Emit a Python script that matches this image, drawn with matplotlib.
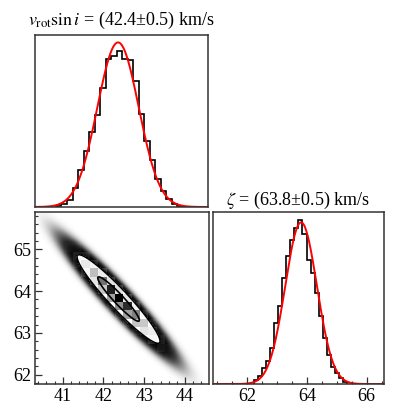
import matplotlib
matplotlib.use("Agg")
import matplotlib.pyplot as plt
import numpy as np
from matplotlib.colors import LinearSegmentedColormap
from matplotlib.ticker import MultipleLocator

plt.rcParams['font.family'] = ['Liberation Serif', 'DejaVu Serif']
plt.rcParams['mathtext.fontset'] = 'stix'

# marginal histograms (heights in axis pixels, axis = 172)
bin_w = 0.136
v_first_edge = 40.838
v_counts = [1, 3.3, 7, 18.7, 37, 56, 75, 91.7, 118.7, 147.7, 151, 156.5,
            148.5, 147, 126, 92.7, 66, 47, 27.7, 16, 8.3, 3.3, 1]
z_first_edge = 62.224
z_counts = [4, 8, 16, 23, 36, 61, 78, 106, 128, 144, 156, 164,
            150, 124, 111, 91, 68, 46, 29, 17, 11, 6, 2]

# gaussian fit parameters
v_mu, v_sd = 42.37, 0.51
z_mu, z_sd = 63.81, 0.53
rho = -0.95

v_title = r"$v_{\rm rot}\sin i$ = (42.4±0.5) km/s"
z_title = r"$\zeta$ = (63.8±0.5) km/s"

v_lim = (40.32, 44.59)
z_lim_2d = (61.78, 65.89)
z_lim_hist = (60.867, 66.58)
hist_top = 172

W, H = 399, 418
fig = plt.figure(figsize=(W / 100, H / 100), dpi=100)


def rect(x0, x1, y0, y1):
    return [x0 / W, 1 - y1 / H, (x1 - x0) / W, (y1 - y0) / H]


ax_v = fig.add_axes(rect(35, 208, 35, 207))
ax_2d = fig.add_axes(rect(35, 209, 212, 384))
ax_z = fig.add_axes(rect(213, 384, 212, 384))

fs = 13
for ax in (ax_v, ax_2d, ax_z):
    for s in ax.spines.values():
        s.set_color('0.2')
        s.set_linewidth(1.1)
    ax.tick_params(which='both', direction='in', colors='0.2',
                   labelcolor='black', labelsize=fs, pad=3)
    ax.tick_params(which='major', length=5, width=0.9)
    ax.tick_params(which='minor', length=2.5, width=0.8)


def marginal(ax, first_edge, counts, mu, sd, xlim):
    counts = np.array(counts)
    edges = first_edge + bin_w * np.arange(len(counts) + 1)
    ax.stairs(counts, edges, color='black', lw=1.2)
    xs = np.linspace(xlim[0], xlim[1], 400)
    area = counts.sum() * bin_w
    ax.plot(xs, area * np.exp(-0.5 * ((xs - mu) / sd) ** 2) / (sd * np.sqrt(2 * np.pi)),
            color='red', lw=1.4)
    ax.set_xlim(*xlim)
    ax.set_ylim(0, hist_top)
    ax.set_yticks([])


marginal(ax_v, v_first_edge, v_counts, v_mu, v_sd, v_lim)
ax_v.set_xticks([])
ax_v.set_title(v_title, fontsize=fs, pad=7)

marginal(ax_z, z_first_edge, z_counts, z_mu, z_sd, z_lim_hist)
ax_z.xaxis.set_major_locator(MultipleLocator(2))
ax_z.xaxis.set_minor_locator(MultipleLocator(0.5))
ax_z.set_title(z_title, fontsize=fs, pad=5)

# 2d panel
def q_of(x, y):
    a = (x - v_mu) / v_sd
    b = (y - z_mu) / z_sd
    r2 = (a * a - 2 * rho * a * b + b * b) / (1 - rho ** 2)
    return np.exp(-0.5 * r2)


gx = np.linspace(*v_lim, 400)
gy = np.linspace(*z_lim_2d, 400)
GX, GY = np.meshgrid(gx, gy)
Q = q_of(GX, GY)

cloud = np.zeros(Q.shape + (4,))
cloud[..., 3] = 1 - np.exp(-41 * Q ** 0.9)
ax_2d.imshow(cloud, extent=(*v_lim, *z_lim_2d), origin='lower', aspect='auto',
             interpolation='bilinear', zorder=1)

lev_out, lev_in = np.exp(-2), np.exp(-0.5)
ax_2d.contourf(GX, GY, Q, levels=[lev_out, 1.01], colors='white', zorder=2)

xe = 40.435 + 0.205 * np.arange(22)
ye = 61.74 + 0.2 * np.arange(22)
cx = 0.5 * (xe[1:] + xe[:-1])
cy = 0.5 * (ye[1:] + ye[:-1])
CX, CY = np.meshgrid(cx, cy)
Qb = q_of(CX, CY)
dens_cmap = LinearSegmentedColormap.from_list("dens", [(1, 1, 1, 0), (0, 0, 0, 1)])
ax_2d.pcolormesh(xe, ye, Qb, cmap=dens_cmap, vmin=0, vmax=Qb.max(), zorder=3)

ax_2d.contour(GX, GY, Q, levels=[lev_out, lev_in], colors='black',
              linewidths=1.2, zorder=4)

ax_2d.set_xlim(*v_lim)
ax_2d.set_ylim(*z_lim_2d)
ax_2d.xaxis.set_major_locator(MultipleLocator(1))
ax_2d.xaxis.set_minor_locator(MultipleLocator(0.2))
ax_2d.yaxis.set_major_locator(MultipleLocator(1))
ax_2d.yaxis.set_minor_locator(MultipleLocator(0.2))

fig.savefig("out.png", dpi=100)
